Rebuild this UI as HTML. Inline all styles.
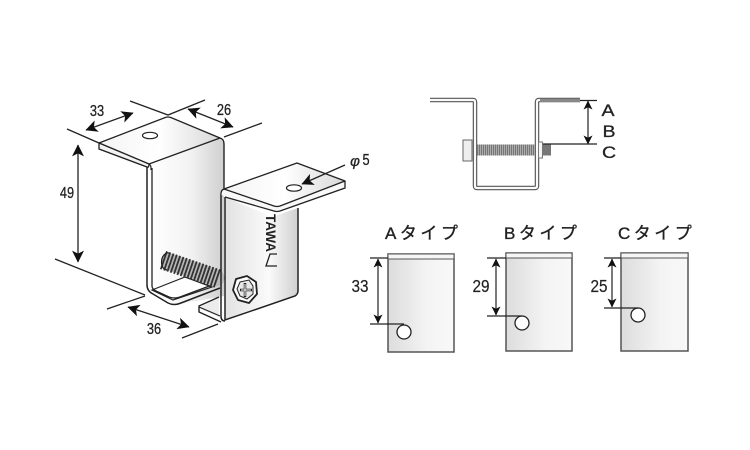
<!DOCTYPE html>
<html><head><meta charset="utf-8"><style>html,body{margin:0;padding:0;background:#fff}svg{display:block;filter:blur(.3px)}
text{font-family:"Liberation Sans","Noto Sans CJK JP",sans-serif;fill:#222}</style></head><body>
<svg width="750" height="450" viewBox="0 0 750 450" xmlns="http://www.w3.org/2000/svg">
<defs>
<linearGradient id="g1" x1="0" x2="1" y1="0" y2="0"><stop offset="0" stop-color="#fff"/><stop offset=".55" stop-color="#f2f2f2"/><stop offset="1" stop-color="#cfcfcf"/></linearGradient>
<linearGradient id="g2" x1="0" x2="1" y1="0" y2="0"><stop offset="0" stop-color="#f4f4f4"/><stop offset=".5" stop-color="#fff"/><stop offset="1" stop-color="#d8d8d8"/></linearGradient>
<linearGradient id="g3" x1="0" x2="1" y1="0" y2="0"><stop offset="0" stop-color="#dcdcdc"/><stop offset=".6" stop-color="#f4f4f4"/><stop offset="1" stop-color="#f8f8f8"/></linearGradient>
<linearGradient id="g4" x1="0" x2="1" y1="0" y2="0"><stop offset="0" stop-color="#e2e2e2"/><stop offset=".6" stop-color="#fafafa"/><stop offset="1" stop-color="#d0d0d0"/></linearGradient>
<marker id="a" viewBox="0 0 10 10" refX="9.500" refY="5" markerWidth="9" markerHeight="9" markerUnits="userSpaceOnUse" orient="auto-start-reverse"><path d="M0,0L10,5L0,10L2.500,5Z" fill="#111"/></marker>
<marker id="b" viewBox="0 0 10 10" refX="9.500" refY="5" markerWidth="12" markerHeight="12" markerUnits="userSpaceOnUse" orient="auto-start-reverse"><path d="M0,0L10,5L0,10L2.500,5Z" fill="#111"/></marker>
</defs>

<!-- back bracket face -->
<path d="M151,164L220,138L224,141V296L175,305L151,292Z" fill="url(#g1)"/>
<!-- floor -->
<path d="M152,290L185,277L212,287L173,300Z" fill="#fff" stroke="#222" stroke-width="1.200"/>
<!-- outer U -->
<path d="M147,167V285Q147,291 153,294L168,303Q174,306 181,303L220,288" fill="none" stroke="#222" stroke-width="1.500"/>
<path d="M152,168V286Q152,289 156,291L169,297Q174,299 180,297L220,282" fill="none" stroke="#222" stroke-width="1.300"/>
<path d="M149,164Q151,165 151,168V170" fill="none" stroke="#222" stroke-width="1.200"/>
<!-- top plate -->
<path d="M99,143L164,118Q168,116 172,118L220,138L149,164Z" fill="url(#g2)" stroke="#222" stroke-width="1.300" stroke-linejoin="round"/>
<path d="M99,143V149L147,167Q149,168 149,164L99,143" fill="#f4f4f4" stroke="#222" stroke-width="1.300"/>
<path d="M220,138Q224,139 224,144V190" fill="none" stroke="#222" stroke-width="1.400"/>
<ellipse cx="150" cy="135.500" rx="7.500" ry="3.200" fill="#fff" stroke="#222" stroke-width="1.200"/>

<!-- bolt -->
<line x1="170" y1="262" x2="216" y2="278" stroke="#b8b8b8" stroke-width="17" stroke-linecap="round"/>
<line x1="163" y1="260" x2="219" y2="279" stroke="#333" stroke-width="19" stroke-dasharray="1.800 1.700" stroke-linecap="butt"/>
<path d="M170,253L167,253Q160,256 162,266Q164,270 167,270" fill="none" stroke="#222" stroke-width="1.300"/>

<!-- front bracket -->
<path d="M225,197L272,217L298,208V291Q298,294 295,296L225,320Z" fill="url(#g4)"/>
<path d="M225,197V320L295,296Q298,294 298,291V208" fill="none" stroke="#222" stroke-width="1.500"/>
<path d="M221,194V316Q221,321 225,321" fill="none" stroke="#222" stroke-width="1.500"/>
<path d="M199,308L219,297V317Z" fill="#ececec"/>
<path d="M219,297L199,306V312L221,322" fill="none" stroke="#222" stroke-width="1.400" stroke-linejoin="round"/>
<path d="M199,307L220,316" fill="none" stroke="#222" stroke-width="1.200"/>
<!-- upper right plate -->
<path d="M223,189L297,163L345,181L345,188L280,210Q277,211 274,210L225,197L221,194Q221,190 223,189Z" fill="#f8f8f8"/>
<path d="M224,189L297,163L345,181L280,206Q277,207 274,206Z" fill="url(#g2)" stroke="#222" stroke-width="1.300" stroke-linejoin="round"/>
<path d="M345,181V188L280,211Q277,212 274,211L225,197" fill="none" stroke="#222" stroke-width="1.300"/>
<path d="M224,189Q221,190 221,194" fill="none" stroke="#222" stroke-width="1.300"/>
<ellipse cx="294" cy="188" rx="7.500" ry="3.200" fill="#fff" stroke="#222" stroke-width="1.200"/>

<!-- hex bolt -->
<path d="M236,279L247,276L256,282L257,294L249,303L238,300L233,290Z" fill="#fff" stroke="#222" stroke-width="1.800" stroke-linejoin="round"/>
<path d="M240,282L249,280L253,286L253,294L247,299L240,296L237,289Z" fill="#e8e8e8" stroke="#222" stroke-width="1"/>
<path d="M245,283V297M240,290H252" stroke="#222" stroke-width="2.500"/>
<path d="M245,284V296M241,290H251" stroke="#fff" stroke-width="1"/>

<!-- logo text -->
<text transform="translate(266,214) rotate(90)" font-size="14" font-weight="bold" textLength="38" lengthAdjust="spacingAndGlyphs">TAWA</text>
<path d="M277,254H270L266,266H277" fill="none" stroke="#222" stroke-width="1.300"/>

<!-- dimensions left -->
<g stroke="#222" stroke-width="1.300" fill="none">
<path d="M67,129L99,143M55,259L145,295M107,309L145,296M182,338L218,324M130,101L168,115L205,100M224,137L262,123"/>
<path d="M78,262V145" marker-start="url(#b)" marker-end="url(#b)"/>
<path d="M86,130L133,113" marker-start="url(#b)" marker-end="url(#b)"/>
<path d="M188,109L233,127" marker-start="url(#b)" marker-end="url(#b)"/>
<path d="M128,307L189,327" marker-start="url(#b)" marker-end="url(#b)"/>
<path d="M345,165L302,184" marker-end="url(#b)"/>
</g>
<g font-size="16" text-anchor="middle" stroke="#222" stroke-width=".3">
<text transform="translate(97,116) scale(.8,1)">33</text>
<text transform="translate(224,115) scale(.8,1)">26</text>
<text transform="translate(154,334) scale(.8,1)">36</text>
<text transform="translate(67,198) scale(.8,1)">49</text>
<text transform="translate(366,165) scale(.8,1)">5</text>
<text x="355" y="166" font-style="italic" font-size="15">φ</text>
</g>

<!-- side view -->
<path d="M430,100H473Q475,100 475,102V186Q475,188 477,188H535Q537,188 537,186V102Q537,100 539,100H580" fill="none" stroke="#555" stroke-width="4.500"/>
<path d="M430,100H473Q475,100 475,102V186Q475,188 477,188H535Q537,188 537,186V102Q537,100 539,100H580" fill="none" stroke="#fafafa" stroke-width="2.200"/>
<path d="M540,100.500H580" stroke="#888" stroke-width="3"/>
<rect x="463" y="140" width="9" height="21" fill="#eee" stroke="#666"/>
<rect x="477" y="144.500" width="58" height="11" fill="#aaa"/>
<path d="M477,150H535" stroke="#777" stroke-width="11" stroke-dasharray="1 1"/>
<rect x="538.500" y="142" width="4" height="16" fill="#f4f4f4" stroke="#777"/>
<rect x="542.500" y="144.500" width="8.500" height="11" fill="#777"/>
<g stroke="#222" stroke-width="1.200" fill="none">
<path d="M580,100.500H597M543,144H597"/>
<path d="M588,101V144" marker-start="url(#a)" marker-end="url(#a)"/>
</g>
<g font-size="17" text-anchor="middle" stroke="#222" stroke-width=".3">
<text transform="translate(608,116) scale(1.150,1)">A</text>
<text transform="translate(609,137) scale(1.150,1)">B</text>
<text transform="translate(609,158) scale(1.150,1)">C</text>
</g>

<!-- type cards -->
<rect x="388" y="254" width="66" height="98" fill="url(#g3)" stroke="#555" stroke-width="1.500"/>
<rect x="388" y="254" width="66" height="5" fill="#f6f6f6" stroke="#555" stroke-width="1"/>
<circle cx="404" cy="332" r="7" fill="#fff" stroke="#222" stroke-width="1.300"/>
<rect x="506" y="253" width="66" height="98" fill="url(#g3)" stroke="#555" stroke-width="1.500"/>
<rect x="506" y="253" width="66" height="5" fill="#f6f6f6" stroke="#555" stroke-width="1"/>
<circle cx="522" cy="323" r="7" fill="#fff" stroke="#222" stroke-width="1.300"/>
<rect x="621" y="253" width="67" height="98" fill="url(#g3)" stroke="#555" stroke-width="1.500"/>
<rect x="621" y="253" width="67" height="5" fill="#f6f6f6" stroke="#555" stroke-width="1"/>
<circle cx="638" cy="315" r="7" fill="#fff" stroke="#222" stroke-width="1.300"/>
<g stroke="#222" stroke-width="1.200" fill="none">
<path d="M370,258H388M370,324H404M487,258H506M487,316H522M604,258H621M604,308H638"/>
<path d="M378,259V323" marker-start="url(#a)" marker-end="url(#a)"/>
<path d="M496,259V315" marker-start="url(#a)" marker-end="url(#a)"/>
<path d="M612,259V307" marker-start="url(#a)" marker-end="url(#a)"/>
</g>
<g font-size="18" text-anchor="middle" stroke="#222" stroke-width=".2">
<text transform="translate(360,292) scale(.85,1)">33</text>
<text transform="translate(481,292) scale(.85,1)">29</text>
<text transform="translate(599,292) scale(.85,1)">25</text>
</g>
<g font-size="17" stroke="#222" stroke-width=".35">
<text x="385" y="239" letter-spacing="3.500">Aタイプ</text>
<text x="504" y="239" letter-spacing="3.500">Bタイプ</text>
<text x="618" y="239" letter-spacing="3.500">Cタイプ</text>
</g>
</svg>
</body></html>
